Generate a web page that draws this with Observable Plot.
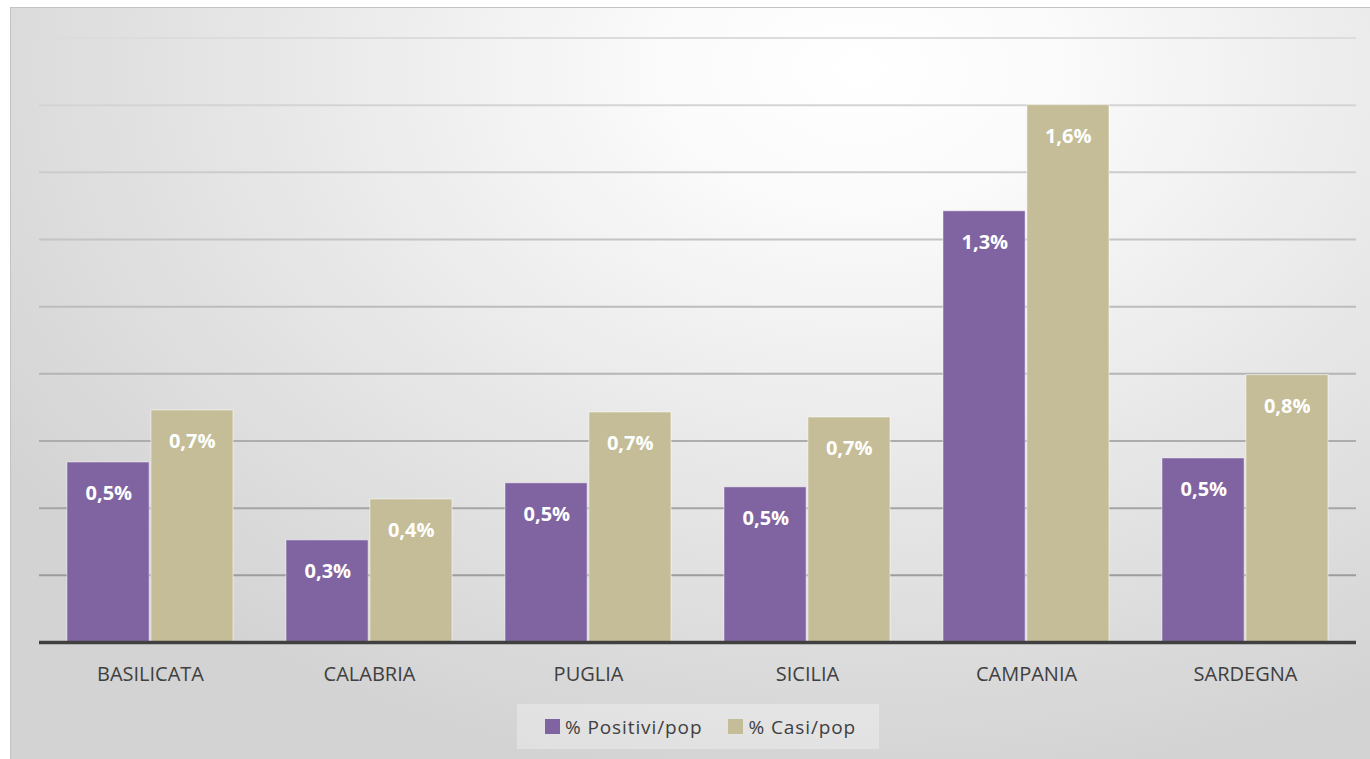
<!DOCTYPE html>
<html>
<head>
<meta charset="utf-8">
<script src="https://cdn.jsdelivr.net/npm/d3@7"></script>
<script src="https://cdn.jsdelivr.net/npm/@observablehq/plot@0.6"></script>
<style>
  html, body { margin: 0; padding: 0; width: 1370px; height: 759px; overflow: hidden; background: #fff; }
  #bg { position: absolute; left: 10px; top: 7px; width: 1370px; height: 760px;
        border: 1.5px solid #c3c3c3;
        background: radial-gradient(ellipse 75% 95% at 62% 8%, #ffffff 0%, #fbfbfb 18%, #e6e6e6 60%, #d3d3d3 100%); }
  #plot { position: absolute; left: 0; top: 0; }
  #legend { position: absolute; left: 517px; top: 704px; width: 362px; height: 45px; box-sizing: border-box;
            padding-left: 28px;
            background: rgba(255,255,255,0.3); display: flex; align-items: center; justify-content: flex-start;
            font-family: "Open Sans", sans-serif; font-size: 19px; letter-spacing: 0.9px; color: #404040; gap: 26px; }
  #legend .item { display: flex; align-items: center; gap: 5px; }
  #legend .sw { width: 15px; height: 15px; display: inline-block; }
</style>
</head>
<body>
<div id="bg"></div>
<div id="plot"></div>
<div id="legend"></div>
<script>
const regions = ["BASILICATA", "CALABRIA", "PUGLIA", "SICILIA", "CAMPANIA", "SARDEGNA"];
const positiviPop = [0.536, 0.304, 0.474, 0.462, 1.284, 0.548];
const casiPop = [0.691, 0.426, 0.685, 0.670, 1.600, 0.796];
const seriesNames = ["% Positivi/pop", "% Casi/pop"];
const seriesColors = ["#8064a2", "#c4bd97"];
const gridValues = [0.2, 0.4, 0.6, 0.8, 1.0, 1.2, 1.4, 1.6, 1.8];

const W = 1370, H = 700;
const mL = 39, mR = 14, mT = 37.5, mB = H - 642;
const pInner = 0.24, pOuter = 0.12;
const step = (W - mL - mR) / (regions.length - pInner + 2 * pOuter);
const bw = step * (1 - pInner);
const half = bw / 2;

const rows = regions.map((r, i) => ({region: r, pos: positiviPop[i], casi: casiPop[i]}));
const fmt = v => v.toFixed(1).replace(".", ",") + "%";
const gridColor = d3.interpolateRgb("#959595", "#dcdcdc");

const chart = Plot.plot({
  width: W,
  height: H,
  marginLeft: mL,
  marginRight: mR,
  marginTop: mT,
  marginBottom: mB,
  style: {background: "transparent", fontFamily: "'Open Sans', sans-serif", color: "#404040", overflow: "visible"},
  x: {domain: regions, paddingInner: pInner, paddingOuter: pOuter, label: null, tickSize: 0, tickPadding: 24},
  y: {domain: [0, 1.8], axis: null},
  color: {type: "identity"},
  marks: [
    Plot.ruleY(gridValues, {y: d => d, stroke: d => gridColor(d / 1.8), strokeWidth: 2}),
    Plot.barY(rows, {x: "region", y: "pos", fill: seriesColors[0], insetLeft: 0, insetRight: half + 0.5,
      stroke: "#ffffff", strokeOpacity: 0.45, strokeWidth: 1}),
    Plot.barY(rows, {x: "region", y: "casi", fill: seriesColors[1], insetLeft: half + 0.5, insetRight: 0,
      stroke: "#ffffff", strokeOpacity: 0.55, strokeWidth: 1}),
    Plot.ruleY([0], {stroke: "#404040", strokeWidth: 3.5}),
    Plot.text(rows, {x: "region", y: "pos", text: d => fmt(d.pos), dx: -half / 2, dy: 31,
      fill: "white", fontWeight: "bold", fontSize: 20}),
    Plot.text(rows, {x: "region", y: "casi", text: d => fmt(d.casi), dx: half / 2, dy: 31,
      fill: "white", fontWeight: "bold", fontSize: 20})
  ]
});
chart.querySelectorAll("g[aria-label='x-axis tick label'], g[aria-label='x-axis'] text").forEach(el => {
  el.setAttribute("font-size", 20);
});
document.getElementById("plot").appendChild(chart);

const legend = document.getElementById("legend");
seriesNames.forEach((name, i) => {
  const item = document.createElement("span");
  item.className = "item";
  const sw = document.createElement("span");
  sw.className = "sw";
  sw.style.background = seriesColors[i];
  const t = document.createElement("span");
  t.textContent = name;
  item.appendChild(sw);
  item.appendChild(t);
  legend.appendChild(item);
});
</script>
</body>
</html>
